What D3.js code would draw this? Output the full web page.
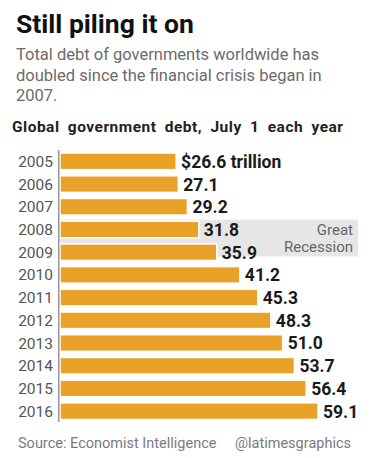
<!DOCTYPE html>
<html><head><meta charset="utf-8">
<script src="https://cdn.jsdelivr.net/npm/d3@7"></script>
<style>
html,body{margin:0;padding:0;background:#fff;}
svg{display:block;font-family:Roboto,"Noto Sans",sans-serif;}
</style></head>
<body>
<svg id="chart" width="372" height="458"></svg>
<script>
const years = ["2005","2006","2007","2008","2009","2010","2011","2012","2013","2014","2015","2016"];
const debt = [26.6,27.1,29.2,31.8,35.9,41.2,45.3,48.3,51.0,53.7,56.4,59.1];
const valueLabels = ["$26.6 trillion","27.1","29.2","31.8","35.9","41.2","45.3","48.3","51.0","53.7","56.4","59.1"];
const recessionYears = ["2008","2009"];
const recessionLabel = ["Great","Recession"];
const title = "Still piling it on";
const subtitleLines = ["Total debt of governments worldwide has","doubled since the financial crisis began in","2007."];
const header = "Global government debt, July 1 each year";
const source = "Source: Economist Intelligence";
const credit = "@latimesgraphics";

const svg = d3.select("#chart");

const x = d3.scaleLinear().domain([0, 59.1]).range([60, 318]);
const y = d3.scaleBand().domain(years).range([150, 422.5]).paddingInner(0.27).paddingOuter(0.135);

// title
svg.append("text").attr("x",16).attr("y",33).attr("font-size",26.5).attr("font-weight",700)
  .attr("fill","#111").text(title);
svg.selectAll("text.sub").data(subtitleLines).join("text").attr("class","sub")
  .attr("x",16).attr("y",(d,i)=>60+i*20.5).attr("font-size",16.5).attr("fill","#6b6b6b").text(d=>d);
svg.append("text").attr("x",12).attr("y",132).attr("font-size",15.5).attr("font-weight",700)
  .attr("fill","#222").attr("word-spacing","4px").attr("textLength",331).attr("lengthAdjust","spacing").text(header);

// recession box
const rTop = y(recessionYears[0]) - 1.5;
const rBot = y(recessionYears[1]) + y.bandwidth() - 4;
svg.append("rect").attr("x",60).attr("y",rTop).attr("width",358-60).attr("height",rBot-rTop).attr("fill","#e6e6e6");
svg.selectAll("text.rec").data(recessionLabel).join("text").attr("class","rec")
  .attr("x",353).attr("y",(d,i)=>rTop+15.5+i*16.5).attr("text-anchor","end")
  .attr("font-size",15).attr("fill","#666").text(d=>d);

// bars
svg.selectAll("rect.bar").data(debt).join("rect").attr("class","bar")
  .attr("x",x(0)).attr("y",(d,i)=>y(years[i]))
  .attr("width",d=>x(d)-x(0)).attr("height",y.bandwidth())
  .attr("fill","#e9a128").attr("stroke","#fff").attr("stroke-width",1.5);

// axis line
svg.append("line").attr("x1",58.7).attr("x2",58.7).attr("y1",150).attr("y2",422)
  .attr("stroke","#999").attr("stroke-width",1.6);

// year labels
svg.selectAll("text.year").data(years).join("text").attr("class","year")
  .attr("x",53).attr("y",d=>y(d)+y.bandwidth()/2).attr("dy","0.36em").attr("text-anchor","end")
  .attr("font-size",15.5).attr("fill","#555").text(d=>d);

// value labels
svg.selectAll("text.val").data(debt).join("text").attr("class","val")
  .attr("x",d=>x(d)+5).attr("y",(d,i)=>y(years[i])+y.bandwidth()/2).attr("dy","0.37em")
  .attr("font-size",17.5).attr("font-weight",700).attr("fill","#1a1a1a").text((d,i)=>valueLabels[i]);

// footer
svg.append("text").attr("x",18).attr("y",448).attr("font-size",14.5).attr("fill","#7a7a7a").text(source);
svg.append("text").attr("x",351).attr("y",448).attr("text-anchor","end").attr("font-size",14.5).attr("fill","#7a7a7a").text(credit);
</script>
</body></html>
